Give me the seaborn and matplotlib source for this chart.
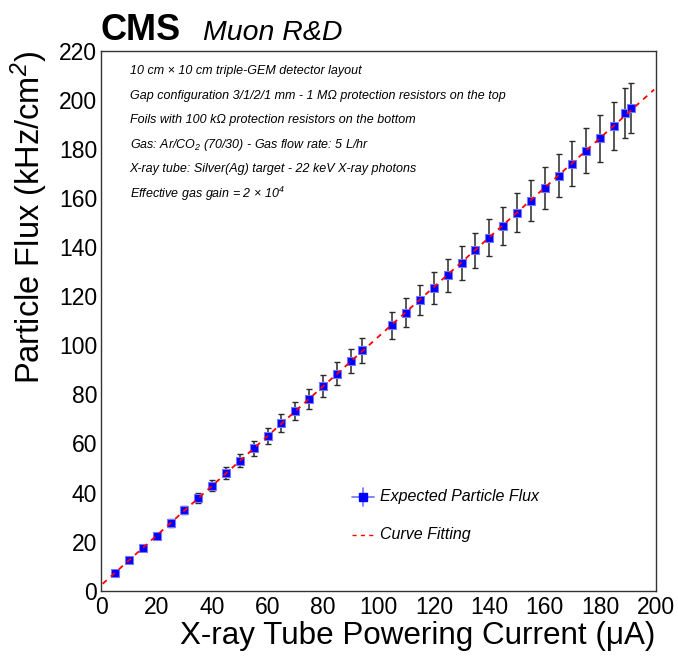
import numpy as np
import matplotlib
matplotlib.use("Agg")
import matplotlib.pyplot as plt
import seaborn as sns

# Measured particle flux vs. X-ray tube current
current_uA = [5, 10, 15, 20, 25, 30, 35, 40, 45, 50, 55, 60, 65, 70, 75, 80, 85, 90, 94,
              105, 110, 115, 120, 125, 130, 135, 140, 145, 150, 155, 160, 165, 170, 175,
              180, 185, 189, 191]
flux_khz_cm2 = [7.3, 12.4, 17.4, 22.4, 27.6, 32.8, 37.8, 42.8, 48.0, 53.0, 58.0, 63.1, 68.3,
                73.2, 78.2, 83.4, 88.4, 93.5, 98.0, 108.1, 113.3, 118.3, 123.3, 128.5, 133.6,
                138.7, 143.8, 148.7, 154.0, 158.9, 164.1, 169.1, 174.0, 179.3, 184.3, 189.3,
                194.6, 196.5]
flux_err = [0.4, 0.65, 0.9, 1.15, 1.45, 1.7, 2.0, 2.2, 2.5, 2.75, 3.0, 3.3, 3.55, 3.8, 4.05,
            4.35, 4.6, 4.85, 5.1, 5.6, 5.9, 6.15, 6.4, 6.7, 6.95, 7.2, 7.5, 7.75, 8.0, 8.25,
            8.55, 8.8, 9.05, 9.3, 9.6, 9.85, 10.1, 10.2]

x_ticks = [0, 20, 40, 60, 80, 100, 120, 140, 160, 180, 200]
y_ticks = [0, 20, 40, 60, 80, 100, 120, 140, 160, 180, 200, 220]

info_lines = [
    "10 cm \u00d7 10 cm triple-GEM detector layout",
    "Gap configuration 3/1/2/1 mm - 1 M\u03a9 protection resistors on the top",
    "Foils with 100 k\u03a9 protection resistors on the bottom",
    "Gas: Ar/CO$_{2}$ (70/30) - Gas flow rate: 5 L/hr",
    "X-ray tube: Silver(Ag) target - 22 keV X-ray photons",
    "Effective gas gain = 2 \u00d7 10$^{4}$",
]

sns.set_theme(style="white")
plt.rcParams["font.family"] = ["Liberation Sans", "DejaVu Sans"]
plt.rcParams["mathtext.fontset"] = "custom"
plt.rcParams["mathtext.rm"] = "Liberation Sans:italic"
plt.rcParams["mathtext.it"] = "Liberation Sans:italic"

W, H = 678, 660
fig = plt.figure(figsize=(W / 100, H / 100), dpi=100)
fig.patch.set_facecolor("white")
ax_l, ax_r, ax_t, ax_b = 101.3, 655.5, 50.7, 590.7
ax = fig.add_axes([ax_l / W, 1 - ax_b / H, (ax_r - ax_l) / W, (ax_b - ax_t) / H])
ax.set_facecolor("white")

# Linear fit of the measured points
slope, intercept = np.polyfit(current_uA, flux_khz_cm2, 1)
fit_x = np.linspace(0.5, 199.5, 200)
sns.lineplot(x=fit_x, y=slope * fit_x + intercept, ax=ax, color="#ff0000",
             lw=1.3, linestyle=(0, (3, 3)), zorder=4, legend=False)

ax.errorbar(current_uA, flux_khz_cm2, yerr=flux_err, fmt="none", ecolor="#2a2a2a",
            elinewidth=1.1, capsize=2.4, capthick=1.0, zorder=2)
sns.scatterplot(x=current_uA, y=flux_khz_cm2, ax=ax, marker="s", s=34,
                color="#0000ff", edgecolor="#7878ff", linewidth=0.8, zorder=3)

ax.set_xlim(0, 200)
ax.set_ylim(0, 220)
ax.set_xticks(x_ticks)
ax.set_yticks(y_ticks)
ax.set_xticks(np.arange(0, 201, 5), minor=True)
ax.set_yticks(np.arange(0, 221, 5), minor=True)
ax.tick_params(axis="both", which="major", direction="in", length=12, width=1.0,
               color="#333333", labelsize=16.5, top=False, right=False)
ax.tick_params(axis="both", which="minor", direction="in", length=6, width=1.0,
               color="#333333", top=False, right=False)
ax.tick_params(axis="x", which="major", pad=4)
ax.tick_params(axis="y", which="major", pad=3)
for lbl in ax.get_xticklabels() + ax.get_yticklabels():
    lbl.set_color("black")
for sp in ax.spines.values():
    sp.set_color("#333333")
    sp.set_linewidth(1.0)

ax.set_xlabel("X-ray Tube Powering Current (\u03bcA)", fontsize=22.6, loc="right", color="black")
ax.set_ylabel("Particle Flux (kHz/cm$^{2}$)", fontsize=23.5, loc="top", color="black")
ax.xaxis.set_label_coords(1.0, -0.057)
ax.yaxis.set_label_coords(-0.093, 1.0)

# CMS header
fig.text(101.0 / W, 1 - 40 / H, "CMS", fontsize=26, fontweight="bold", ha="left",
         va="baseline", color="black")
fig.text(203 / W, 1 - 40 / H, "Muon R&D", fontsize=20.5, fontstyle="italic",
         ha="left", va="baseline", color="black")

# Detector description
line_y = [71, 96, 120, 145, 169, 194]
for yy, txt in zip(line_y, info_lines):
    fig.text(129.5 / W, 1 - yy / H, txt, fontsize=9.0, fontstyle="italic",
             ha="left", va="center", color="black")

# Legend
lx, ly1, ly2 = 363, 497, 535
fig.add_artist(plt.Line2D([352 / W, 374 / W], [1 - ly1 / H] * 2, color="#6f6fff", lw=1.2))
fig.add_artist(plt.Line2D([lx / W] * 2, [1 - (ly1 - 9) / H, 1 - (ly1 + 9) / H],
                          color="#6f6fff", lw=1.2))
fig.add_artist(plt.Line2D([lx / W], [1 - ly1 / H], marker="s", markersize=5.2,
                          color="#0000ff", markeredgecolor="#0000ff", lw=0))
fig.text(380 / W, 1 - ly1 / H, "Expected Particle Flux", fontsize=11.5,
         fontstyle="italic", ha="left", va="center", color="black")
fig.add_artist(plt.Line2D([352 / W, 374 / W], [1 - ly2 / H] * 2, color="#ff0000",
                          lw=1.0, linestyle=(0, (3, 3))))
fig.text(380 / W, 1 - ly2 / H, "Curve Fitting", fontsize=11.5, fontstyle="italic",
         ha="left", va="center", color="black")

fig.savefig("out.png", dpi=100)
